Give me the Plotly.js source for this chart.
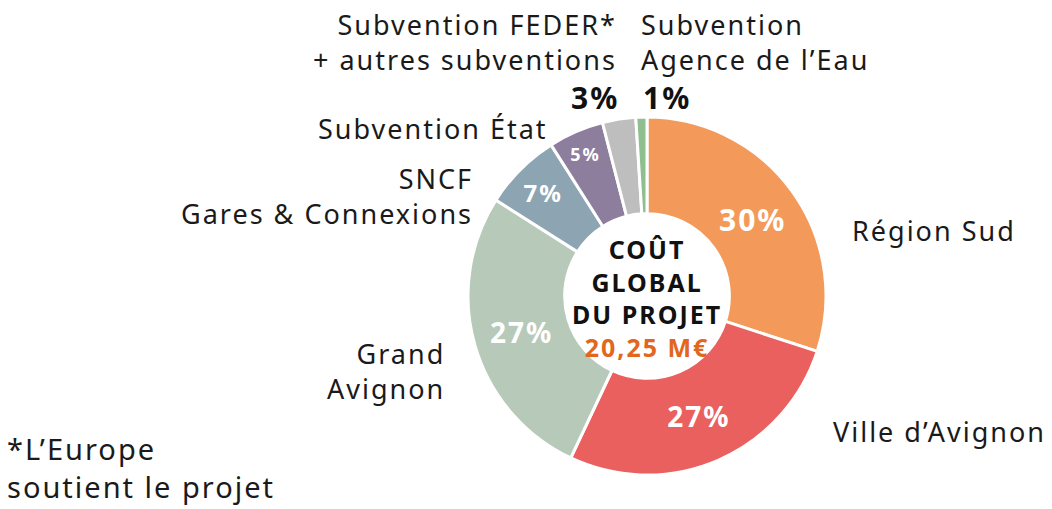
<!DOCTYPE html>
<html>
<head>
<meta charset="utf-8">
<script src="https://cdn.plot.ly/plotly-3.0.1.min.js"></script>
<style>
html,body{margin:0;padding:0;background:#fff;}
#chart{width:1052px;height:509px;}
.annotation-text{letter-spacing:2px;}
.slicetext{letter-spacing:2px;}
</style>
</head>
<body>
<div id="chart"></div>
<script>
// Data
const labels = ['Région Sud', "Ville d'Avignon", 'Grand Avignon', 'SNCF Gares & Connexions', 'Subvention État', 'Subvention FEDER* + autres subventions', "Subvention Agence de l'Eau"];
const values = [30, 27, 27, 7, 5, 3, 1];
const insideText = ['30%', '27%', '27%', '7%', '5%', '', ''];
const colors = ['#F39A5B', '#E9605E', '#B7C9B8', '#8DA4B3', '#8E7E9E', '#BEBEBE', '#8FBF8E'];
const textSizes = [30, 28, 28, 24, 18, 10, 10];
const centerLines = ['COÛT', 'GLOBAL', 'DU PROJET'];
const totalCost = '20,25 M€';

const W = 1052, H = 509;
const cx = 647, cy = 296, R = 179;

const FONT = '"Noto Sans", "Open Sans", sans-serif';

const trace = {
  type: 'pie',
  labels: labels,
  values: values,
  text: insideText,
  textinfo: 'text',
  textposition: 'inside',
  insidetextorientation: 'horizontal',
  sort: false,
  direction: 'clockwise',
  rotation: 0,
  hole: 0.46,
  marker: {colors: colors, line: {color: '#ffffff', width: 3}},
  textfont: {family: FONT, size: textSizes, color: '#ffffff', weight: 'bold'},
  showlegend: false,
  hoverinfo: 'label+percent',
  domain: {x: [(cx - R) / W, (cx + R) / W], y: [(H - cy - R) / H, (H - cy + R) / H]}
};

function ann(text, x, y, xanchor, opts) {
  opts = opts || {};
  return Object.assign({
    text: text, x: x / W, y: 1 - y / H, xref: 'paper', yref: 'paper',
    xanchor: xanchor, yanchor: 'middle', showarrow: false, align: xanchor === 'center' ? 'center' : xanchor,
    font: {family: FONT, size: 27, color: '#1a1a1a'}
  }, opts);
}

const annotations = [
  ann('Subvention FEDER*<br>+ autres subventions', 619, 42, 'right'),
  ann('<b>3%</b>', 621, 98, 'right', {font: {family: FONT, size: 30, color: '#111'}}),
  ann('Subvention<br>Agence de l\u2019Eau', 639, 42, 'left'),
  ann('<b>1%</b>', 641, 98, 'left', {font: {family: FONT, size: 30, color: '#111'}}),
  ann('Subvention État', 550, 128, 'right'),
  ann('SNCF<br>Gares & Connexions', 475, 196, 'right'),
  ann('Région Sud', 850, 230, 'left'),
  ann('Grand<br>Avignon', 447, 371, 'right'),
  ann('Ville d\u2019Avignon', 831, 431, 'left'),
  ann('*L\u2019Europe<br>soutient le projet', 5, 467, 'left', {font: {family: FONT, size: 29, color: '#1a1a1a'}}),
  ann('<b>' + centerLines.join('<br>') + '</b><br><b><span style="color:#E2661C">' + totalCost + '</span></b>', cx, 298, 'center',
      {font: {family: FONT, size: 25, color: '#111'}})
];

const layout = {
  width: W, height: H,
  margin: {l: 0, r: 0, t: 0, b: 0},
  paper_bgcolor: '#ffffff',
  plot_bgcolor: '#ffffff',
  annotations: annotations
};

Plotly.newPlot('chart', [trace], layout, {displayModeBar: false, staticPlot: true});
</script>
</body>
</html>
